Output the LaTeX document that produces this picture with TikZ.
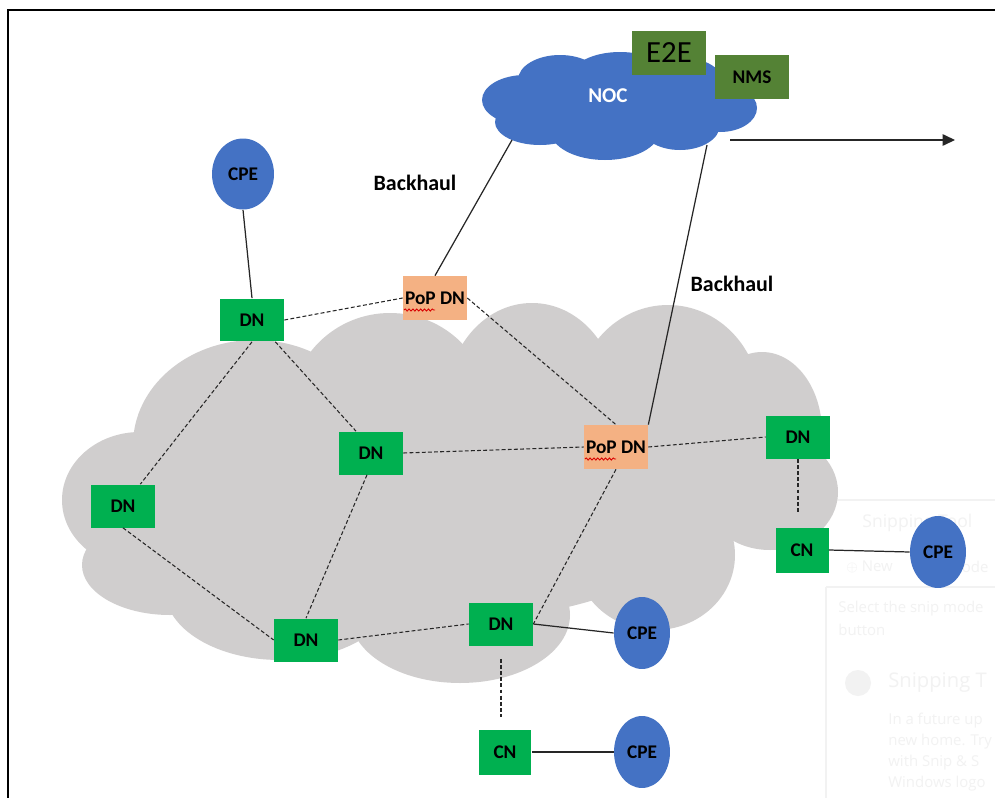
\documentclass[tikz,border=0pt]{standalone}
\usepackage{fontspec}
\setmainfont{Carlito}
\newfontfamily\uifont{Open Sans}
\usetikzlibrary{arrows.meta,calc,decorations.pathmorphing,shapes.geometric}
\definecolor{nodegreen}{HTML}{00B050}
\definecolor{mgmtgreen}{HTML}{548235}
\definecolor{popfill}{HTML}{F4B183}
\definecolor{nocblue}{HTML}{4472C4}
\definecolor{meshgray}{HTML}{D0CECE}
\definecolor{ghost}{HTML}{F2F2F2}

\begin{document}
\begin{tikzpicture}[x=0.02cm,y=-0.02cm,
  lbl/.style={font=\fontsize{11}{13}\selectfont\bfseries},
  biglbl/.style={font=\fontsize{12.5}{15}\selectfont\bfseries},
  dnbox/.style={rectangle, fill=nodegreen, minimum width=1.28cm, minimum height=0.86cm, inner sep=0pt, lbl},
  cnbox/.style={dnbox, minimum width=1.06cm, minimum height=0.9cm},
  popbox/.style={dnbox, fill=popfill, minimum height=0.88cm},
  cpe/.style={ellipse, fill=nocblue, minimum width=1.12cm, minimum height=1.44cm, inner sep=0pt, lbl},
  mgmt/.style={rectangle, fill=mgmtgreen, inner sep=0pt},
  radio/.style={draw=black!85, line width=0.6pt, dash pattern=on 2.2pt off 1.3pt},
  wire/.style={draw=black!85, line width=0.7pt},
  squiggle/.style={draw=red!85!black, line width=0.5pt, decorate,
    decoration={snake, segment length=2.2pt, amplitude=0.6pt}},
  ghosttext/.style={text=ghost, anchor=west, inner sep=0pt, font=\uifont\fontsize{8.5}{10}\selectfont}
]
\useasboundingbox (0,0) rectangle (995,798);
\fill[white] (0,0) rectangle (995,798);

% faint window behind the drawing
\begin{scope}
  \clip (0,0) rectangle (995,798);
  \draw[ghost, line width=0.6pt] (836,500) -- (995,500);
  \draw[ghost, line width=0.6pt] (826,587) -- (995,587);
  \draw[ghost, line width=0.6pt] (826,587) -- (826,798);
  \node[ghosttext, font=\uifont\fontsize{10}{12}\selectfont] at (862,523) {Snipping Tool};
  \node[ghosttext] at (846,567) {$\oplus$ New};
  \node[ghosttext] at (948,567) {Mode};
  \node[ghosttext] at (838,609) {Select the snip mode};
  \node[ghosttext] at (838,630) {button};
  \fill[ghost] (858,683) circle (13);
  \node[ghosttext, font=\uifont\fontsize{11.5}{13}\selectfont] at (888,683) {Snipping T};
  \node[ghosttext] at (888,721) {In a future up};
  \node[ghosttext] at (888,742) {new home. Try};
  \node[ghosttext] at (888,763) {with Snip \& S};
  \node[ghosttext] at (888,784) {Windows logo};
\end{scope}

% outer frame
\draw[line width=1.7pt] (8,798) -- (8,10) -- (995,10);

% mesh cloud
\begin{scope}[fill=meshgray]
  \fill (140,500) ellipse [x radius=78, y radius=68];
  \fill (170,565) ellipse [x radius=88, y radius=50];
  \fill (255,445) ellipse [x radius=122, y radius=105];
  \fill (280,590) ellipse [x radius=115, y radius=70];
  \fill (390,412) ellipse [x radius=100, y radius=99];
  \fill (532,400) ellipse [x radius=85, y radius=97];
  \fill (668,402) ellipse [x radius=92, y radius=97];
  \fill (762,432) ellipse [x radius=60, y radius=80];
  \fill (770,492) ellipse [x radius=68, y radius=58];
  \fill (460,615) ellipse [x radius=110, y radius=68];
  \fill (655,555) ellipse [x radius=80, y radius=75];
  \fill (450,500) ellipse [x radius=260, y radius=120];
\end{scope}

% operations cloud
\begin{scope}[fill=nocblue]
  \fill (525,100) ellipse [x radius=43, y radius=25];
  \fill (540,122) ellipse [x radius=45, y radius=23];
  \fill (560,80) ellipse [x radius=42, y radius=25];
  \fill (620,78) ellipse [x radius=50, y radius=26];
  \fill (605,130) ellipse [x radius=55, y radius=30];
  \fill (680,125) ellipse [x radius=40, y radius=25];
  \fill (720,108) ellipse [x radius=37, y radius=24];
  \fill (680,85) ellipse [x radius=45, y radius=28];
  \fill (620,105) ellipse [x radius=115, y radius=35];
\end{scope}
\node[font=\fontsize{12}{14}\selectfont\bfseries, text=white] (noc) at (608,96) {NOC};
\node[mgmt, minimum width=1.48cm, minimum height=0.88cm, font=\fontsize{17.5}{20}\selectfont] (e2e) at (669,53) {E2E};
\node[mgmt, minimum width=1.5cm, minimum height=0.9cm, lbl] (nms) at (752,77) {NMS};

\coordinate (nocA) at (512,140);
\coordinate (nocB) at (707,145);
\coordinate (outA) at (730,140);
\coordinate (outB) at (955,140);

% nodes
\node[cpe, minimum width=1.24cm, minimum height=1.42cm] (cpeA) at (243,174) {CPE};
\node[dnbox] (dnA) at (252,320) {DN};
\node[popbox] (popA) at (435,298) {PoP DN};
\node[popbox] (popB) at (616,447) {PoP DN};
\node[dnbox] (dnB) at (371,453) {DN};
\node[dnbox] (dnL) at (123,506) {DN};
\node[dnbox] (dnC) at (306,640) {DN};
\node[dnbox] (dnM) at (501,624) {DN};
\node[dnbox] (dnR) at (798,437) {DN};
\node[cnbox] (cnR) at (802,550) {CN};
\node[cpe] (cpeR) at (938,552) {CPE};
\node[cpe] (cpeM) at (642,633) {CPE};
\node[cnbox] (cnB) at (505,752) {CN};
\node[cpe] (cpeB) at (642,752) {CPE};

\node[biglbl] (bhA) at (415,183) {Backhaul};
\node[biglbl] (bhB) at (732,284) {Backhaul};

% spell-check marks under "PoP"
\draw[squiggle] ($(popA.center)+(-31,12)$) -- ($(popA.center)+(0,12)$);
\draw[squiggle] ($(popB.center)+(-31,12)$) -- ($(popB.center)+(0,12)$);

% backhaul and access wiring
\draw[wire] (nocA) -- (popA.north);
\draw[wire] (nocB) -- (popB.north east);
\draw[wire, -{Triangle[length=7pt,width=6.5pt]}] (outA) -- (outB);
\draw[wire] (cpeA.south) -- (dnA.north);
\draw[wire] (dnM.east) -- (cpeM.west);
\draw[wire] (cnR.east) -- (cpeR.west);
\draw[wire] (cnB.east) -- (cpeB.west);

% wireless mesh links
\draw[radio] (dnA.east) -- (popA.west);
\draw[radio] (popA.east) -- (popB.north);
\draw[radio] (dnA.south) -- ([xshift=-0.3cm]dnL.north east);
\draw[radio] ([xshift=-0.18cm]dnA.south east) -- ([xshift=-0.3cm]dnB.north);
\draw[radio] (dnL.south) -- (dnC.west);
\draw[radio] ([xshift=-0.08cm]dnB.south) -- (dnC.north);
\draw[radio] (dnB.east) -- (popB.west);
\draw[radio] (popB.east) -- (dnR.west);
\draw[radio] (popB.south) -- (dnM.east);
\draw[radio] (dnC.east) -- (dnM.west);
\draw[radio, shorten <=0.26cm, shorten >=0.24cm] (dnM.south) -- (dnM.south |- cnB.north);
\draw[radio, shorten >=0.26cm] (dnR.south) -- (dnR.south |- cnR.north);
\end{tikzpicture}
\end{document}
